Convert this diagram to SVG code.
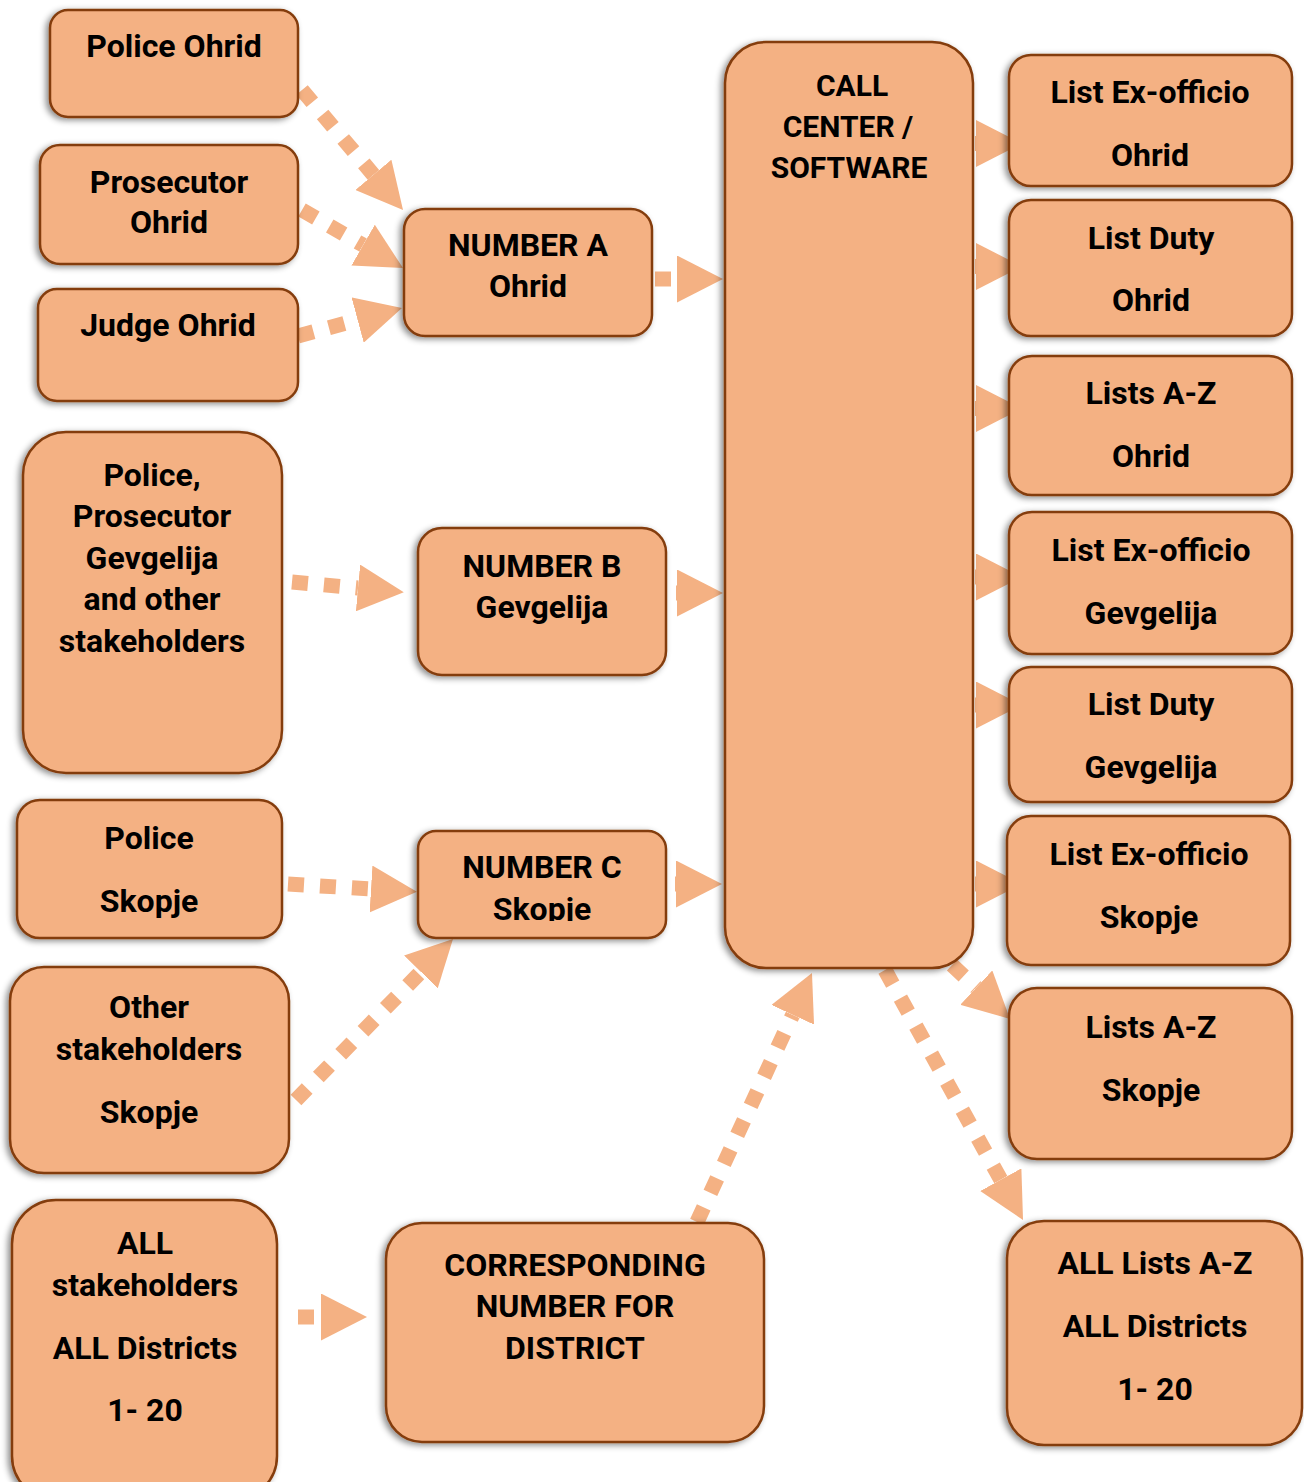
<svg xmlns="http://www.w3.org/2000/svg" width="1304" height="1482" viewBox="0 0 1304 1482">
<defs>
<filter id="sh" x="-10%" y="-10%" width="120%" height="120%">
<feDropShadow dx="-3" dy="2" stdDeviation="3" flood-color="#000" flood-opacity="0.45"/>
</filter>
<marker id="ah" markerUnits="userSpaceOnUse" markerWidth="46" markerHeight="47" viewBox="0 0 46 47" refX="0" refY="23.5" orient="auto">
<path d="M0,0L46,23.5L0,47z" fill="#F4B183"/>
</marker>
<clipPath id="clipC"><rect x="418" y="831" width="249" height="90"/></clipPath>
</defs>
<style>
.box{fill:#F4B183;stroke:#843C0C;stroke-width:2.5;filter:url(#sh)}
.t{font-family:Roboto,"Liberation Sans",sans-serif;font-weight:700;font-size:32px;fill:#000;text-anchor:middle}
.s{font-size:30px}
.c{fill:none;stroke:#F4B183;stroke-width:15;stroke-dasharray:16 16;marker-end:url(#ah)}
</style>
<rect width="1304" height="1482" fill="#fff"/>
<g id="connectors">
<path class="c" d="M302,90L373.4,174.8"/>
<path class="c" d="M302,210L363.1,245.1"/>
<path class="c" d="M298,336L357.6,320"/>
<path class="c" d="M655,279L677,279"/>
<path class="c" d="M292,582L358,588"/>
<path class="c" d="M676,593L677,593"/>
<path class="c" d="M288,884L371,889"/>
<path class="c" d="M296,1100L420.9,971.9"/>
<path class="c" d="M675,884L676,884"/>
<path class="c" d="M697,1222L792.7,1014.8"/>
<path class="c" d="M885,970L1000.8,1179.7"/>
<path class="c" d="M952,965L976.3,987.6"/>
<path class="c" d="M298,1317L321,1317"/>
<path class="c" d="M975,143.5L976,143.5"/>
<path class="c" d="M975,266.5L976,266.5"/>
<path class="c" d="M975,408.5L976,408.5"/>
<path class="c" d="M975,577L976,577"/>
<path class="c" d="M975,705L976,705"/>
<path class="c" d="M975,884L976,884"/>
</g>
<g id="police-ohrid"><rect class="box" x="50" y="10" width="248" height="107" rx="18"/><text class="t" x="174" y="57">Police Ohrid</text></g>
<g id="prosecutor-ohrid"><rect class="box" x="40" y="145" width="258" height="119" rx="20"/><text class="t" x="169" y="193">Prosecutor</text><text class="t" x="169" y="233">Ohrid</text></g>
<g id="judge-ohrid"><rect class="box" x="38" y="289" width="260" height="112" rx="19"/><text class="t" x="168" y="336">Judge Ohrid</text></g>
<g id="gevgelija-stakeholders"><rect class="box" x="23" y="432" width="259" height="341" rx="43"/><text class="t" x="152" y="486">Police,</text><text class="t" x="152" y="527">Prosecutor</text><text class="t" x="152" y="569">Gevgelija</text><text class="t" x="152" y="610">and other</text><text class="t" x="152" y="652">stakeholders</text></g>
<g id="police-skopje"><rect class="box" x="17" y="800" width="265" height="138" rx="23"/><text class="t" x="149" y="849">Police</text><text class="t" x="149" y="912">Skopje</text></g>
<g id="other-skopje"><rect class="box" x="10" y="967" width="279" height="206" rx="34"/><text class="t" x="149" y="1018">Other</text><text class="t" x="149" y="1060">stakeholders</text><text class="t" x="149" y="1123">Skopje</text></g>
<g id="all-stakeholders"><rect class="box" x="12" y="1200" width="265" height="300" rx="44"/><text class="t" x="145" y="1254">ALL</text><text class="t" x="145" y="1296">stakeholders</text><text class="t" x="145" y="1359">ALL Districts</text><text class="t" x="145" y="1421">1- 20</text></g>
<g id="number-a"><rect class="box" x="404" y="209" width="248" height="127" rx="21"/><text class="t" x="528" y="256">NUMBER A</text><text class="t" x="528" y="297">Ohrid</text></g>
<g id="number-b"><rect class="box" x="418" y="528" width="248" height="147" rx="24"/><text class="t" x="542" y="577">NUMBER B</text><text class="t" x="542" y="618">Gevgelija</text></g>
<g id="number-c"><rect class="box" x="418" y="831" width="248" height="107" rx="18"/><text class="t" x="542" y="878">NUMBER C</text><text class="t" x="542" y="920" clip-path="url(#clipC)">Skopje</text></g>
<g id="corresponding"><rect class="box" x="386" y="1223" width="378" height="219" rx="36"/><text class="t" x="575" y="1276">CORRESPONDING</text><text class="t" x="575" y="1317">NUMBER FOR</text><text class="t" x="575" y="1359">DISTRICT</text></g>
<g id="call-center"><rect class="box" x="725" y="42" width="248" height="926" rx="41"/><text class="t s" x="852" y="96">CALL</text><text class="t s" x="848" y="137">CENTER /</text><text class="t s" x="849" y="178">SOFTWARE</text></g>
<g id="exofficio-ohrid"><rect class="box" x="1009" y="55" width="283" height="131" rx="22"/><text class="t" x="1150" y="103">List Ex-officio</text><text class="t" x="1150" y="166">Ohrid</text></g>
<g id="duty-ohrid"><rect class="box" x="1009" y="200" width="283" height="136" rx="22"/><text class="t" x="1151" y="249">List Duty</text><text class="t" x="1151" y="311">Ohrid</text></g>
<g id="az-ohrid"><rect class="box" x="1009" y="356" width="283" height="139" rx="23"/><text class="t" x="1151" y="404">Lists A-Z</text><text class="t" x="1151" y="467">Ohrid</text></g>
<g id="exofficio-gevgelija"><rect class="box" x="1009" y="512" width="283" height="142" rx="23"/><text class="t" x="1151" y="561">List Ex-officio</text><text class="t" x="1151" y="624">Gevgelija</text></g>
<g id="duty-gevgelija"><rect class="box" x="1009" y="667" width="283" height="135" rx="22"/><text class="t" x="1151" y="715">List Duty</text><text class="t" x="1151" y="778">Gevgelija</text></g>
<g id="exofficio-skopje"><rect class="box" x="1007" y="816" width="283" height="149" rx="24"/><text class="t" x="1149" y="865">List Ex-officio</text><text class="t" x="1149" y="928">Skopje</text></g>
<g id="az-skopje"><rect class="box" x="1009" y="988" width="283" height="171" rx="28"/><text class="t" x="1151" y="1038">Lists A-Z</text><text class="t" x="1151" y="1101">Skopje</text></g>
<g id="all-lists"><rect class="box" x="1007" y="1221" width="295" height="224" rx="37"/><text class="t" x="1155" y="1274">ALL Lists A-Z</text><text class="t" x="1155" y="1337">ALL Districts</text><text class="t" x="1155" y="1400">1- 20</text></g>
</svg>
